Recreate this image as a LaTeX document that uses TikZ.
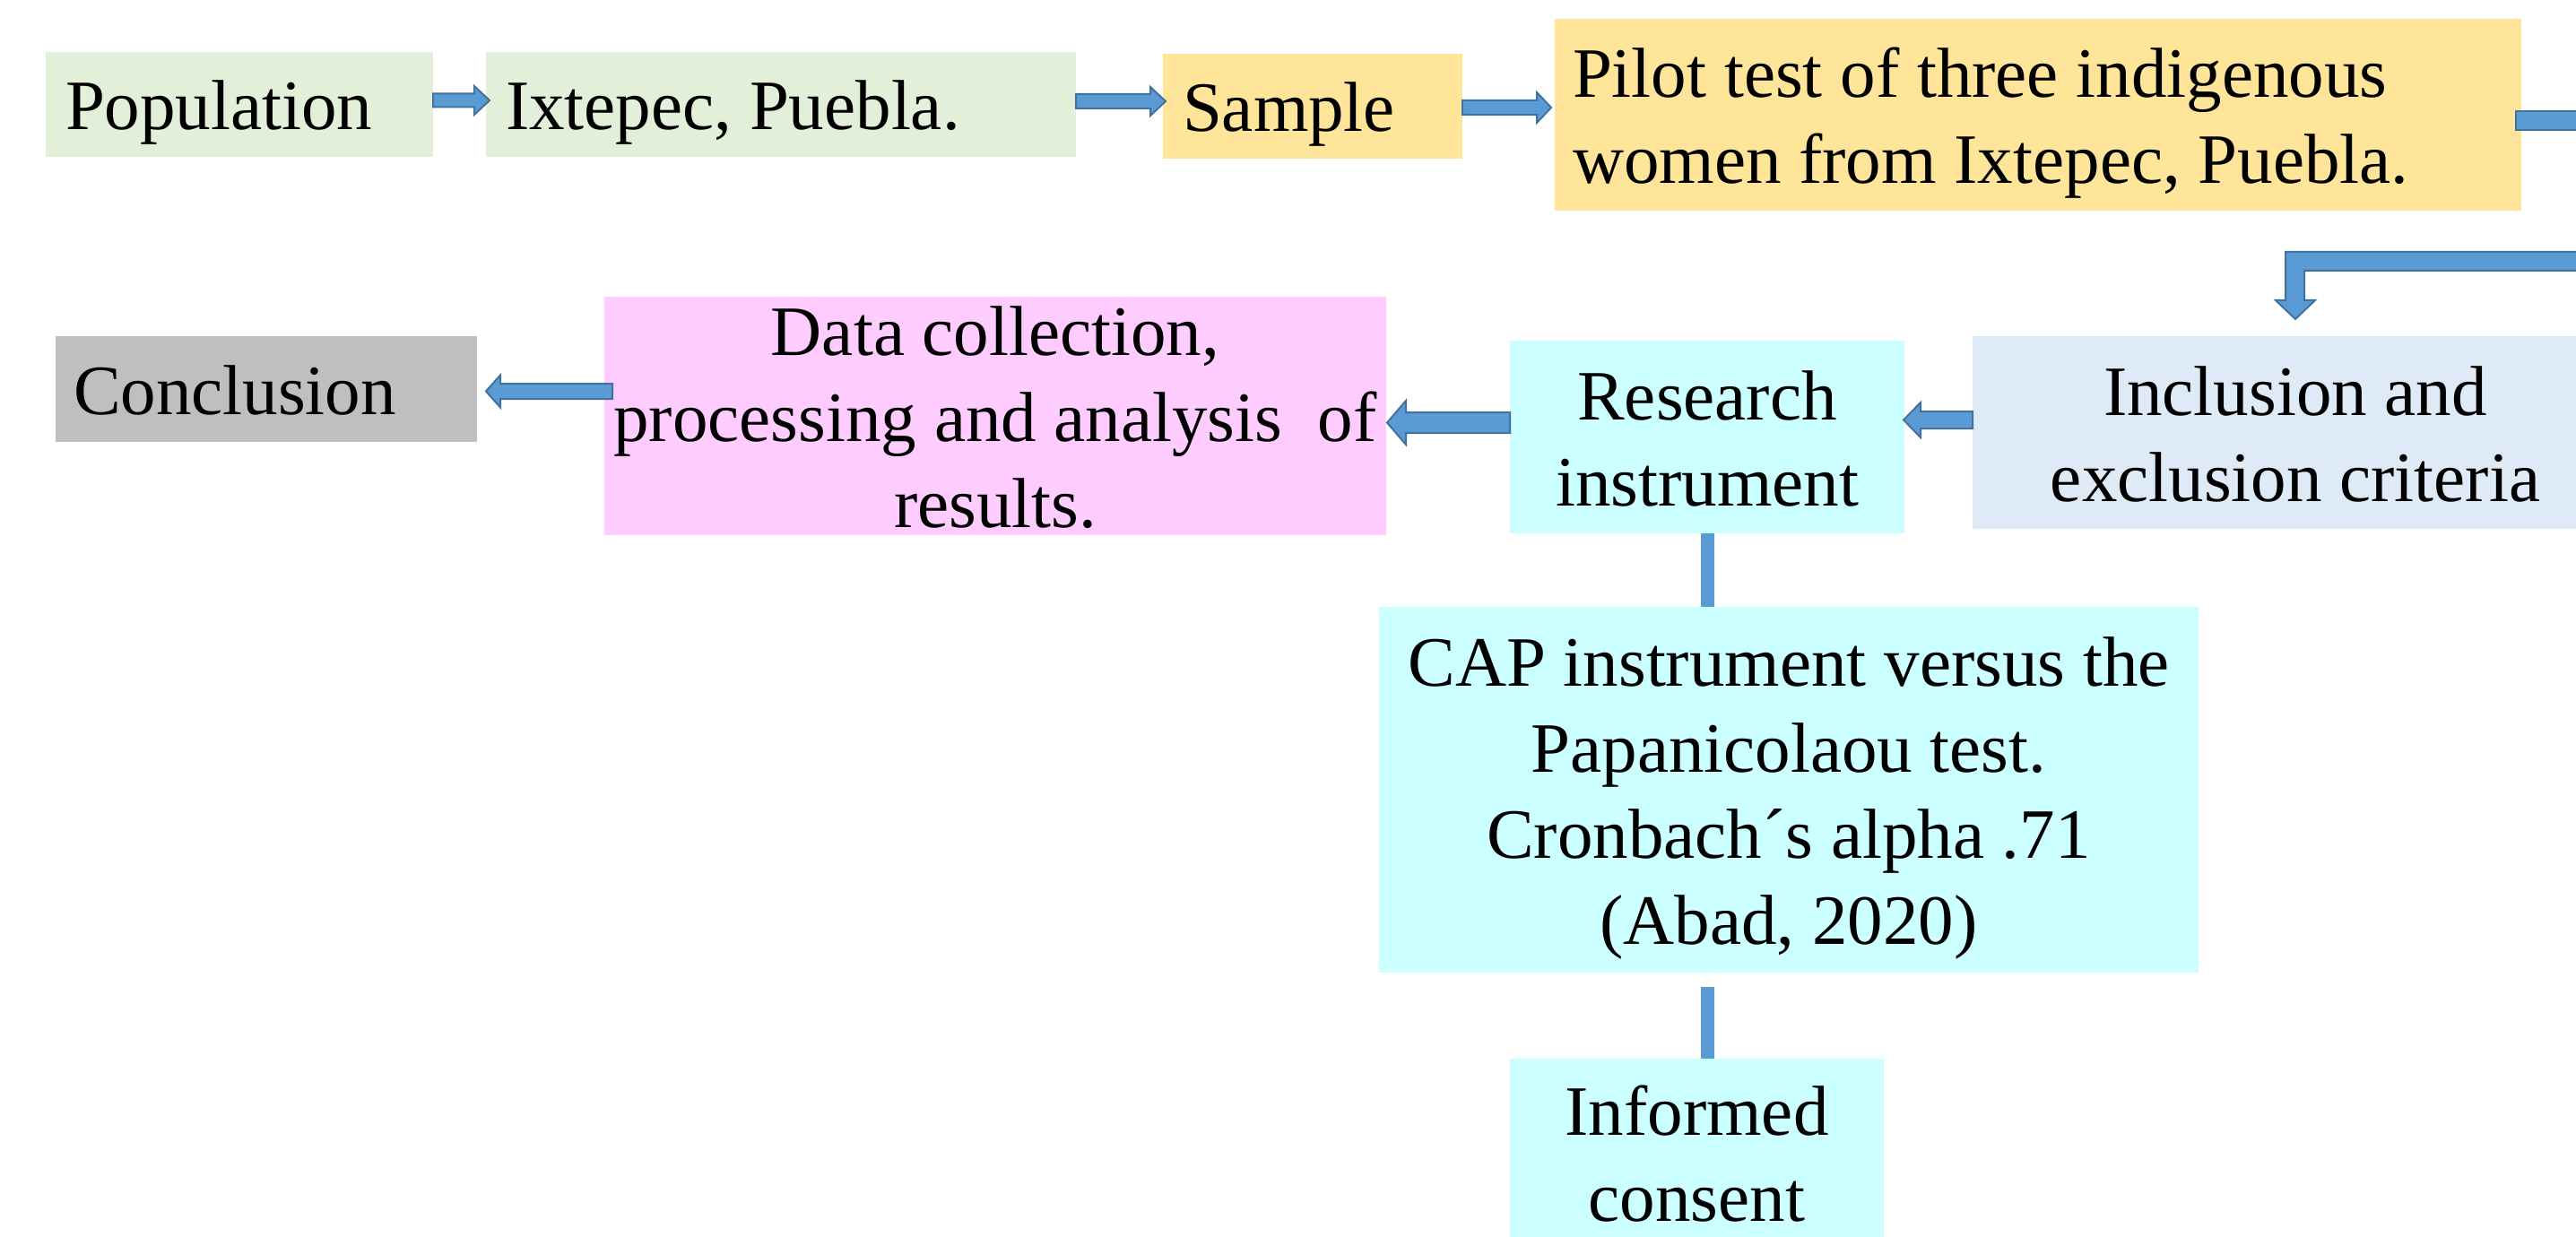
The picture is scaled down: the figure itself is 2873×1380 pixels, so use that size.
\documentclass[tikz,border=0pt]{standalone}
\usepackage{fontspec}
\setmainfont{Liberation Serif}
\usetikzlibrary{calc}
\definecolor{cgreen}{HTML}{E2EFD9}
\definecolor{cgold}{HTML}{FFE599}
\definecolor{cpink}{HTML}{FFCCFF}
\definecolor{ccyan}{HTML}{CCFFFF}
\definecolor{cblue}{HTML}{DEEAF6}
\definecolor{cgray}{HTML}{BFBFBF}
\definecolor{afill}{HTML}{5B9BD5}
\definecolor{aline}{HTML}{41719C}
\newcommand\tx[2][c]{\raisebox{0pt}[\dimexpr\height-10.2pt\relax][0pt]{\begin{tabular}[b]{@{}#1@{}}#2\end{tabular}}}
\newcommand\rarr[5]{\filldraw[blk] let \p1=(#1),\p2=(#2) in (\x1,\y1+#3) -- (\x2-#5,\y1+#3) -- (\x2-#5,\y1+#4) -- (\x2,\y1) -- (\x2-#5,\y1-#4) -- (\x2-#5,\y1-#3) -- (\x1,\y1-#3) -- cycle;}
\newcommand\larr[5]{\filldraw[blk] let \p1=(#1),\p2=(#2) in (\x1,\y1+#3) -- (\x2+#5,\y1+#3) -- (\x2+#5,\y1+#4) -- (\x2,\y1) -- (\x2+#5,\y1-#4) -- (\x2+#5,\y1-#3) -- (\x1,\y1-#3) -- cycle;}
\tikzset{
  bx/.style={inner sep=0pt, outer sep=0pt, font=\fontsize{79}{96}\selectfont},
  blk/.style={fill=afill, draw=aline, line width=2pt, line join=miter},
  conn/.style={draw=afill, line width=15pt}
}
\begin{document}
\begin{tikzpicture}[x=1pt, y=-1pt]
\useasboundingbox (0,0) rectangle (2873,1380);
\clip (0,0) rectangle (2873,1380);
\fill[white] (0,0) rectangle (2873,1380);
% boxes
\node[bx, fill=cgreen, minimum width=432pt, minimum height=117pt] (pop) at (267,116.5) {\makebox[388pt][l]{\tx[l]{Population}}};
\node[bx, fill=cgreen, minimum width=658pt, minimum height=117pt] (ixt) at (871,116.5) {\makebox[614pt][l]{\tx[l]{Ixtepec, Puebla.}}};
\node[bx, fill=cgold, minimum width=334pt, minimum height=117pt] (sample) at (1464,118.5) {\makebox[290pt][l]{\tx[l]{Sample}}};
\node[bx, fill=cgold, minimum width=1078pt, minimum height=214pt] (pilot) at (2273,128) {\makebox[1038pt][l]{\tx[l]{Pilot test of three indigenous\\women from Ixtepec, Puebla.}}};
\node[bx, fill=cgray, minimum width=470pt, minimum height=118pt] (concl) at (297,434) {\makebox[430pt][l]{\tx[l]{Conclusion}}};
\node[bx, fill=cpink, minimum width=872pt, minimum height=266pt] (data) at (1110,464) {\tx{Data collection,\\processing and analysis\ \ of\\results.}};
\node[bx, fill=ccyan, minimum width=440pt, minimum height=215pt] (res) at (1904,487.5) {\tx{Research\\instrument}};
\node[bx, fill=cblue, minimum width=720pt, minimum height=215pt] (incl) at (2560,482.5) {\tx{Inclusion and\\exclusion criteria}};
\node[bx, fill=ccyan, minimum width=914pt, minimum height=408pt] (cap) at (1995,881) {\tx{CAP instrument versus the\\Papanicolaou test.\\Cronbach´s alpha .71\\(Abad, 2020)}};
\node[bx, fill=ccyan, minimum width=417pt, minimum height=210pt] (inf) at (1892.5,1286) {\tx{Informed\\consent}};
% connectors
\rarr{$(pop.east)+(0,-4.5)$}{$(ixt.west)+(4,0)$}{7.5pt}{16pt}{17pt}
\rarr{$(ixt.east)+(0,-3.5)$}{$(sample.west)+(3,0)$}{8pt}{16pt}{17pt}
\rarr{$(sample.east)+(0,1.5)$}{$(pilot.west)+(-4,0)$}{8pt}{17pt}{16pt}
\filldraw[blk] ($(pilot.east)+(-6,-4)$) rectangle ++(200,21);
\filldraw[blk] ($(incl.north)+(0,-19)$) -- ++(22,-21) -- ++(-12,0) -- ++(0,-33) -- ++(400,0) -- ++(0,-21) -- ++(-421,0) -- ++(0,54) -- ++(-11,0) -- cycle;
\larr{$(incl.west)+(0,-14)$}{$(res.east)+(-1,0)$}{9.5pt}{19.5pt}{19pt}
\larr{$(res.west)+(0,-16)$}{$(data.east)+(1,0)$}{11.5pt}{24.5pt}{21pt}
\larr{$(data.west)+(9,-27.5)$}{$(concl.east)+(10,0)$}{8.5pt}{18pt}{16pt}
\draw[conn] (res.south) -- (res.south |- cap.north);
\draw[conn] ($(cap.south -| res.south)+(0,16)$) -- (inf.north -| res.south);
\end{tikzpicture}
\end{document}
